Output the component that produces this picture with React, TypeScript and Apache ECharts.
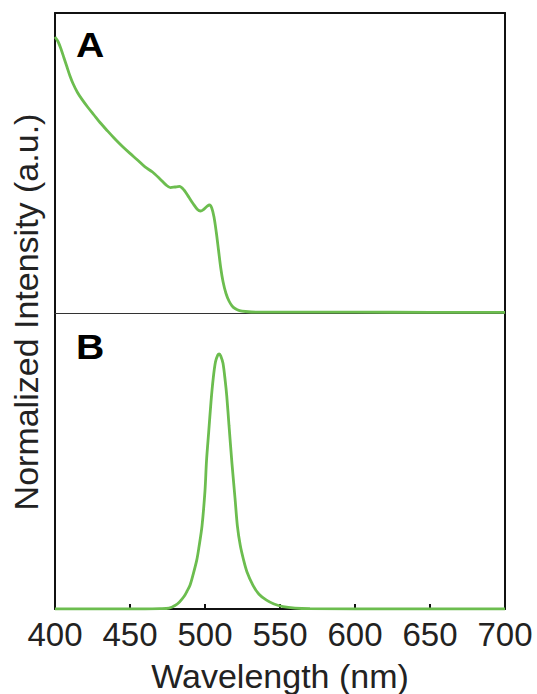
import React, { useEffect, useRef } from "react";
import * as echarts from "echarts";

// Panel A: absorption (wavelength nm, normalized intensity)
const absWavelength = [
  400, 402, 404, 406, 408, 410, 412, 415, 418, 422, 426, 430, 435, 440, 445, 450, 455, 460, 465, 470,
  474, 477, 480, 483, 486, 489, 492, 495, 497, 499, 501.5, 503, 504.5, 506, 507.5, 509, 510.5, 512,
  514, 516, 518, 520, 523, 527, 535, 560, 600, 650, 700,
];
const absIntensity = [
  0.92, 0.905, 0.88, 0.85, 0.82, 0.79, 0.765, 0.735, 0.712, 0.685, 0.66, 0.635, 0.607, 0.58, 0.555,
  0.532, 0.51, 0.487, 0.47, 0.447, 0.427, 0.418, 0.42, 0.422, 0.41, 0.388, 0.365, 0.345, 0.34, 0.345,
  0.356, 0.36, 0.35, 0.32, 0.27, 0.21, 0.15, 0.105, 0.065, 0.04, 0.024, 0.015, 0.008, 0.005, 0.003,
  0.003, 0.003, 0.002, 0.002,
];

// Panel B: emission
const emWavelength = [
  400, 450, 460, 470, 476, 480, 483, 486, 488, 490, 492, 494.5, 496, 498, 500, 501, 502.5, 504, 505.5,
  507, 508.5, 509.5, 510.5, 512, 513.5, 514.5, 516, 518, 520, 521.6, 523.5, 525.6, 528, 532, 536, 541,
  546, 552, 560, 570, 600, 700,
];
const emIntensity = [
  0, 0, 0, 0.001, 0.003, 0.012, 0.024, 0.042, 0.06, 0.08, 0.115, 0.165, 0.21, 0.28, 0.4, 0.5, 0.6, 0.7,
  0.78, 0.835, 0.858, 0.862, 0.855, 0.83, 0.77, 0.72, 0.62, 0.49, 0.375, 0.28, 0.215, 0.168, 0.125,
  0.08, 0.05, 0.03, 0.017, 0.008, 0.003, 0.001, 0, 0,
];

const xTicks = { min: 400, max: 700, interval: 50 };
const panelLabels = ["A", "B"];
const xTitle = "Wavelength (nm)";
const yTitle = "Normalized Intensity (a.u.)";

const FONT = "'Liberation Sans', Arial, Helvetica, sans-serif";
const GREEN = "#6cbd4f";

export default function App() {
  const ref = useRef<HTMLDivElement>(null);
  useEffect(() => {
    if (!ref.current) return;
    const chart = echarts.init(ref.current, undefined, { renderer: "svg" });
    const frame = { show: true, lineStyle: { color: "#111", width: 2 } };
    const noXExtras = {
      axisTick: { show: false },
      axisLabel: { show: false },
      splitLine: { show: false },
    };
    const yCommon = {
      type: "value" as const,
      min: 0,
      max: 1,
      axisLine: frame,
      axisTick: { show: false },
      axisLabel: { show: false },
      splitLine: { show: false },
    };
    chart.setOption({
      animation: false,
      grid: [
        { left: 55, top: 13, width: 450, height: 300 },
        { left: 55, top: 313, width: 450, height: 301 },
      ],
      xAxis: [
        {
          type: "value", gridIndex: 0, position: "bottom", ...xTicks,
          axisLine: { show: true, onZero: false, lineStyle: { color: "#333", width: 1 } },
          ...noXExtras,
        },
        {
          type: "value", gridIndex: 0, position: "top", ...xTicks,
          axisLine: { ...frame, onZero: false },
          ...noXExtras,
        },
        {
          type: "value", gridIndex: 1, position: "bottom", ...xTicks,
          axisLine: { ...frame, onZero: false },
          axisTick: { show: true, inside: true, length: 5, lineStyle: { color: "#111", width: 2 } },
          axisLabel: { show: true, fontSize: 33, color: "#222", fontFamily: FONT, margin: 9 },
          splitLine: { show: false },
          name: xTitle,
          nameLocation: "middle",
          nameGap: 50,
          nameTextStyle: { fontSize: 34, color: "#222", fontFamily: FONT },
        },
      ],
      yAxis: [
        { ...yCommon, gridIndex: 0, position: "left" },
        { ...yCommon, gridIndex: 0, position: "right" },
        { ...yCommon, gridIndex: 1, position: "left" },
        { ...yCommon, gridIndex: 1, position: "right" },
      ],
      series: [
        {
          type: "line", xAxisIndex: 0, yAxisIndex: 0, showSymbol: false, smooth: 0.3,
          lineStyle: { color: GREEN, width: 2.8 },
          data: absWavelength.map((w, i) => [w, absIntensity[i]]),
        },
        {
          type: "line", xAxisIndex: 2, yAxisIndex: 2, showSymbol: false, smooth: 0.3,
          lineStyle: { color: GREEN, width: 2.8 },
          data: emWavelength.map((w, i) => [w, emIntensity[i]]),
        },
      ],
      graphic: [
        {
          type: "text", x: 76, y: 27, scaleX: 1.12,
          style: { text: panelLabels[0], font: `bold 35px ${FONT}`, fill: "#000" },
        },
        {
          type: "text", x: 76, y: 329, scaleX: 1.12,
          style: { text: panelLabels[1], font: `bold 35px ${FONT}`, fill: "#000" },
        },
        {
          type: "text", x: 26, y: 312, rotation: Math.PI / 2,
          style: {
            text: yTitle, font: `34px ${FONT}`, fill: "#222",
            align: "center", verticalAlign: "middle",
          },
        },
      ],
    });
    return () => chart.dispose();
  }, []);
  return (
    <div
      ref={ref}
      style={{ position: "fixed", left: 0, top: 0, width: 537, height: 694, background: "#fff" }}
    />
  );
}
